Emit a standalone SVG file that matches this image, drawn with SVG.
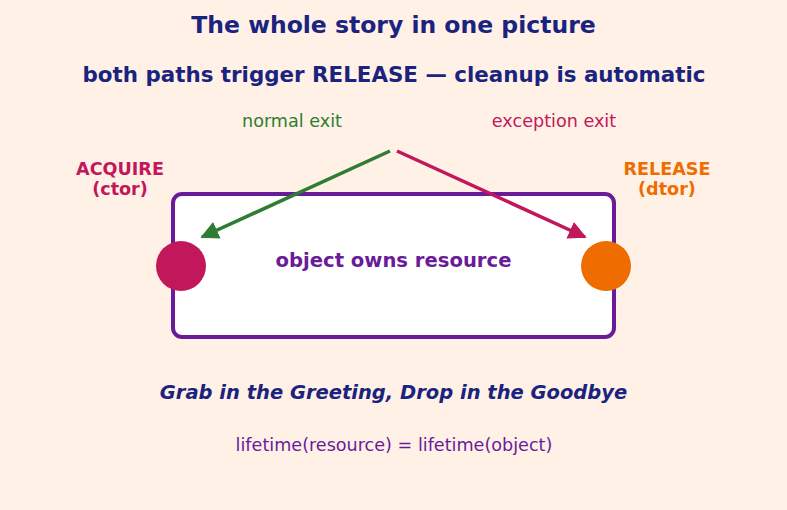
<svg xmlns="http://www.w3.org/2000/svg" width="787" height="510" viewBox="0 0 787 510">
<defs>
<style>
text{font-family:"DejaVu Sans","Liberation Sans",sans-serif;text-anchor:middle;dominant-baseline:central}
.b{font-weight:bold}
.title{font-size:23.5px;fill:#1a237e;font-weight:bold}
.lab{font-size:17.6px}
</style>
<marker id="ag" viewBox="0 0 10 10" refX="9" refY="5" markerWidth="5.2" markerHeight="5.2" orient="auto" markerUnits="strokeWidth"><path d="M0,0L10,5L0,10z" fill="#2e7d32"/></marker>
<marker id="ar" viewBox="0 0 10 10" refX="9" refY="5" markerWidth="5.2" markerHeight="5.2" orient="auto" markerUnits="strokeWidth"><path d="M0,0L10,5L0,10z" fill="#c2185b"/></marker>
</defs>
<rect width="787" height="510" fill="#fff1e6"/>
<text class="title" x="393.5" y="25">The whole story in one picture</text>
<text class="b" x="394" y="74" style="font-size:21.4px;fill:#1a237e">both paths trigger RELEASE — cleanup is automatic</text>
<text class="lab" x="292" y="121" fill="#2e7d32">normal exit</text>
<text class="lab" x="554" y="121" fill="#c2185b">exception exit</text>
<g id="box">
<rect x="173" y="194" width="441" height="143" rx="9" fill="#ffffff" stroke="#6a1b9a" stroke-width="4"/>
<text class="b" x="393.5" y="260" style="font-size:19.6px;fill:#6a1b9a">object owns resource</text>
</g>
<g id="acquire">
<circle cx="181" cy="266" r="25" fill="#c2185b"/>
<text class="b lab" x="120" y="169" fill="#c2185b">ACQUIRE</text>
<text class="b lab" x="120" y="189" fill="#c2185b">(ctor)</text>
</g>
<g id="release">
<circle cx="606" cy="266" r="25" fill="#ef6c00"/>
<text class="b lab" x="667" y="169" fill="#ef6c00">RELEASE</text>
<text class="b lab" x="667" y="189" fill="#ef6c00">(dtor)</text>
</g>
<g id="connectors" fill="none" stroke-width="3.5">
<line x1="390" y1="151" x2="202" y2="237" stroke="#2e7d32" marker-end="url(#ag)"/>
<line x1="397" y1="151" x2="585" y2="237" stroke="#c2185b" marker-end="url(#ar)"/>
</g>
<text class="b" x="393.5" y="392" style="font-size:19.5px;font-style:italic;fill:#1a237e">Grab in the Greeting, Drop in the Goodbye</text>
<text class="lab" x="394" y="445" fill="#6a1b9a">lifetime(resource) = lifetime(object)</text>
</svg>
